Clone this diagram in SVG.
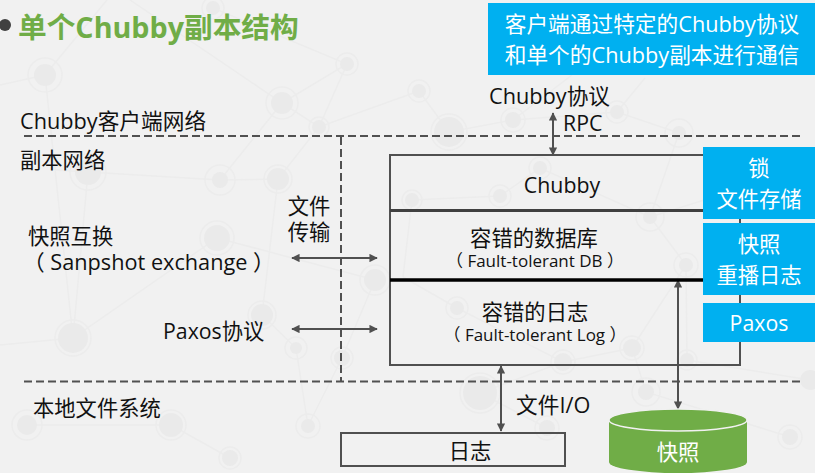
<svg xmlns="http://www.w3.org/2000/svg" width="815" height="473" viewBox="0 0 815 473">
<style>
text{font-family:"Open Sans","Noto Sans CJK SC",sans-serif;fill:#111}
.c{text-anchor:middle}
.t{font-size:21.300px}
.m{font-size:21.700px}
.s{font-size:17px}
.w{fill:#fff}
.b{fill:#00b0f0}
.d{fill:none;stroke:#505050;stroke-width:2;stroke-dasharray:8 4}
.a{fill:none;stroke:#505050;stroke-width:2;marker-start:url(#h);marker-end:url(#h)}
.bgl{stroke:#ececec;stroke-width:1.500;fill:none}
.n1{fill:#eaeaea}
.n2{fill:none;stroke:#ececec;stroke-width:1.500}
</style>
<defs>
<marker id="h" viewBox="0 0 10 10" refX="9" refY="5" markerWidth="4.2" markerHeight="4.2" orient="auto-start-reverse"><path d="M0 0L10 5L0 10z" fill="#505050"/></marker>
</defs>
<rect width="815" height="473" fill="#f1f1f1"/>
<g id="background">
<path class="bgl" d="M0 85L45 75L107 0M45 75L55 170L88 172M45 75L73 338M282 103L347 64L213 8M282 103L130 0M282 103L220 180M282 103L319 127L419 91M220 180L88 172M220 180L278 179L319 127M278 179L262 315L296 348L308 426M88 172L73 338M319 127L347 64M0 345L73 338L217 238L375 280M171 425L230 458M27 425L171 425M308 426L342 358L375 280M419 91L449 132L513 120L617 112L679 133M617 112L645 78M513 120L572 75M679 133L650 217L540 168L500 196M500 196L412 200L403 277M650 217L800 170M650 217L686 265L632 348L563 362L457 308L403 277M686 265L687 360L810 380M563 362L480 393M632 348L646 392L790 437M480 393L547 428"/>
<circle class="n1" cx="45" cy="75" r="11"/><circle class="n2" cx="45" cy="75" r="17"/>
<circle class="n1" cx="347" cy="64" r="7"/><circle class="n2" cx="347" cy="64" r="11"/>
<circle class="n1" cx="282" cy="103" r="11"/><circle class="n2" cx="282" cy="103" r="16"/>
<circle class="n1" cx="319" cy="127" r="7"/><circle class="n2" cx="319" cy="127" r="10"/>
<circle class="n1" cx="88" cy="172" r="13"/><circle class="n2" cx="88" cy="172" r="18"/>
<circle class="n1" cx="220" cy="180" r="8"/><circle class="n2" cx="220" cy="180" r="15"/>
<circle class="n1" cx="278" cy="179" r="11"/><circle class="n2" cx="278" cy="179" r="14"/>
<circle class="n1" cx="213" cy="8" r="7"/><circle class="n2" cx="213" cy="8" r="11"/>
<circle class="n1" cx="217" cy="238" r="13"/><circle class="n2" cx="217" cy="238" r="17"/>
<circle class="n1" cx="73" cy="338" r="15"/><circle class="n2" cx="73" cy="338" r="18"/>
<circle class="n1" cx="262" cy="315" r="11"/><circle class="n2" cx="262" cy="315" r="14"/>
<circle class="n1" cx="296" cy="348" r="6"/><circle class="n2" cx="296" cy="348" r="11"/>
<circle class="n1" cx="342" cy="358" r="8"/><circle class="n2" cx="342" cy="358" r="11"/>
<circle class="n1" cx="375" cy="280" r="11"/><circle class="n2" cx="375" cy="280" r="15"/>
<circle class="n1" cx="308" cy="426" r="7"/><circle class="n2" cx="308" cy="426" r="12"/>
<circle class="n1" cx="27" cy="425" r="10"/><circle class="n2" cx="27" cy="425" r="15"/>
<circle class="n1" cx="171" cy="425" r="12"/><circle class="n2" cx="171" cy="425" r="15"/>
<circle class="n1" cx="230" cy="458" r="8"/><circle class="n2" cx="230" cy="458" r="11"/>
<circle class="n1" cx="449" cy="132" r="15"/><circle class="n2" cx="449" cy="132" r="18"/>
<circle class="n1" cx="419" cy="91" r="7"/><circle class="n2" cx="419" cy="91" r="11"/>
<circle class="n1" cx="513" cy="120" r="8"/><circle class="n2" cx="513" cy="120" r="12"/>
<circle class="n1" cx="617" cy="112" r="7"/><circle class="n2" cx="617" cy="112" r="11"/>
<circle class="n1" cx="679" cy="133" r="7"/><circle class="n2" cx="679" cy="133" r="14"/>
<circle class="n1" cx="540" cy="168" r="7"/><circle class="n2" cx="540" cy="168" r="11"/>
<circle class="n1" cx="500" cy="196" r="7"/><circle class="n2" cx="500" cy="196" r="11"/>
<circle class="n1" cx="412" cy="200" r="7"/><circle class="n2" cx="412" cy="200" r="10"/>
<circle class="n1" cx="650" cy="217" r="7"/><circle class="n2" cx="650" cy="217" r="14"/>
<circle class="n1" cx="686" cy="265" r="7"/><circle class="n2" cx="686" cy="265" r="12"/>
<circle class="n1" cx="457" cy="308" r="7"/><circle class="n2" cx="457" cy="308" r="11"/>
<circle class="n1" cx="632" cy="348" r="9"/><circle class="n2" cx="632" cy="348" r="12"/>
<circle class="n1" cx="687" cy="360" r="7"/><circle class="n2" cx="687" cy="360" r="10"/>
<circle class="n1" cx="563" cy="362" r="9"/><circle class="n2" cx="563" cy="362" r="12"/>
<circle class="n1" cx="480" cy="393" r="17"/><circle class="n2" cx="480" cy="393" r="20"/>
<circle class="n1" cx="646" cy="392" r="8"/><circle class="n2" cx="646" cy="392" r="14"/>
<circle class="n1" cx="547" cy="428" r="8"/><circle class="n2" cx="547" cy="428" r="12"/>
<circle class="n1" cx="790" cy="437" r="8"/><circle class="n2" cx="790" cy="437" r="12"/>
<circle class="n1" cx="810" cy="380" r="10"/>
</g>
<g id="title">
<circle cx="5" cy="25" r="6" fill="#404040"/>
<text x="18" y="38" style="font-size:28.700px;font-weight:700;fill:#70ad47">单个Chubby副本结构</text>
</g>
<g id="connectors">
<path class="d" d="M24 136H804"/>
<path class="d" d="M24 381.500H804"/>
<path class="d" d="M341 137V381"/>
<path class="a" d="M553 113V155"/>
<path class="a" d="M292 258H377"/>
<path class="a" d="M292 329H377"/>
<path class="a" d="M501 366V431"/>
<path class="a" d="M678 280V409"/>
</g>
<g id="labels">
<text class="m" x="20" y="129">Chubby客户端网络</text>
<text class="t" x="20" y="168">副本网络</text>
<text class="t" x="28" y="244">快照互换</text>
<text class="m" x="23" y="270">（ Sanpshot exchange ）</text>
<text class="t" x="163" y="339">Paxos协议</text>
<text class="t" x="33" y="416">本地文件系统</text>
<text class="t c" x="309" y="214">文件</text>
<text class="t c" x="309" y="240">传输</text>
<text class="m" x="489" y="104">Chubby协议</text>
<text class="t" x="563" y="131">RPC</text>
<text class="m" x="516" y="413">文件I/O</text>
</g>
<g id="chubby-stack">
<rect x="390" y="155" width="350" height="210" fill="none" stroke="#505050" stroke-width="2"/>
<path d="M390 210.500H740" stroke="#404040" stroke-width="3"/>
<path d="M390 280H740" stroke="#000" stroke-width="3.500"/>
<text class="t c" x="562" y="193">Chubby</text>
<text class="t c" x="534" y="246">容错的数据库</text>
<text class="s c" x="535" y="267">（ Fault-tolerant DB ）</text>
<text class="t c" x="535" y="320">容错的日志</text>
<text class="s c" x="535" y="341">（ Fault-tolerant Log ）</text>
</g>
<g id="note">
<rect class="b" x="488" y="3" width="327" height="72"/>
<text class="m c w" x="652" y="32">客户端通过特定的Chubby协议</text>
<text class="m c w" x="652" y="63">和单个的Chubby副本进行通信</text>
</g>
<g id="box-lock">
<rect class="b" x="703" y="147" width="112" height="72"/>
<text class="t c w" x="759" y="176">锁</text>
<text class="t c w" x="759" y="207">文件存储</text>
</g>
<g id="box-snapshot">
<rect class="b" x="703" y="223" width="112" height="72"/>
<text class="t c w" x="759" y="252">快照</text>
<text class="t c w" x="759" y="283">重播日志</text>
</g>
<g id="box-paxos">
<rect class="b" x="703" y="303" width="112" height="39"/>
<text class="t c w" x="759" y="331">Paxos</text>
</g>
<g id="log">
<rect x="341" y="433" width="224" height="33" fill="none" stroke="#505050" stroke-width="2"/>
<text class="t c" x="470" y="459">日志</text>
</g>
<g id="snapshot">
<path d="M609 420V462A69 11 0 0 0 747 462V420z" fill="#70ad47"/>
<ellipse cx="678" cy="420" rx="69" ry="11" fill="#70ad47" stroke="#f1f1f1" stroke-width="1.500"/>
<text class="t c w" x="678" y="460">快照</text>
</g>
</svg>
